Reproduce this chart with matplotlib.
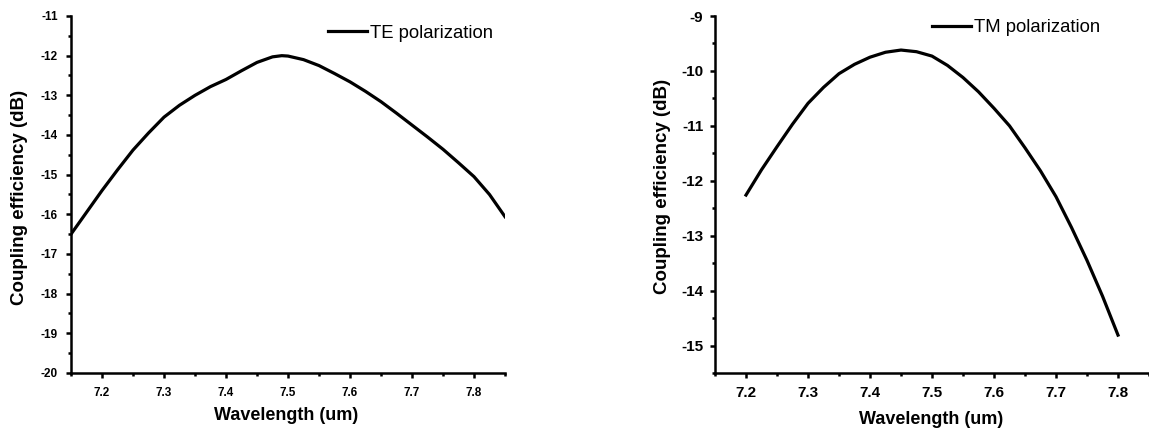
import matplotlib
matplotlib.use('Agg')
import matplotlib.pyplot as plt
from matplotlib.ticker import MultipleLocator

plt.rcParams['font.family'] = ['Liberation Sans', 'DejaVu Sans']
plt.rcParams['axes.unicode_minus'] = False

# TE polarization (left panel)
te_wl = [7.15, 7.175, 7.20, 7.225, 7.25, 7.275, 7.30, 7.325, 7.35, 7.375,
         7.40, 7.425, 7.45, 7.475, 7.49, 7.50, 7.525, 7.55, 7.575, 7.60,
         7.625, 7.65, 7.675, 7.70, 7.725, 7.75, 7.775, 7.80, 7.825, 7.85]
te_ce = [-16.50, -15.95, -15.40, -14.88, -14.38, -13.95, -13.55, -13.25, -13.00, -12.78,
         -12.60, -12.38, -12.17, -12.03, -12.00, -12.01, -12.10, -12.25, -12.45, -12.66,
         -12.90, -13.16, -13.45, -13.75, -14.05, -14.36, -14.70, -15.05, -15.50, -16.06]

# TM polarization (right panel)
tm_wl = [7.20, 7.225, 7.25, 7.275, 7.30, 7.325, 7.35, 7.375, 7.40, 7.425, 7.45, 7.475, 7.50,
         7.525, 7.55, 7.575, 7.60, 7.625, 7.65, 7.675, 7.70, 7.725, 7.75, 7.775, 7.80]
tm_ce = [-12.26, -11.80, -11.38, -10.97, -10.59, -10.30, -10.05, -9.88, -9.75, -9.66, -9.62, -9.65, -9.73,
         -9.90, -10.12, -10.38, -10.68, -11.00, -11.40, -11.82, -12.29, -12.85, -13.45, -14.10, -14.81]

W, H = 1149, 434
fig = plt.figure(figsize=(W / 100, H / 100), dpi=100)
ax1 = fig.add_axes([71 / W, 1 - 373 / H, 434 / W, 357 / H])
ax2 = fig.add_axes([715 / W, 1 - 373 / H, 434 / W, 357 / H])


def style(ax, tick_size, xpad, ypad):
    for s in ['top', 'right']:
        ax.spines[s].set_visible(False)
    for s in ['left', 'bottom']:
        ax.spines[s].set_linewidth(1.8)
    ax.tick_params(which='major', direction='out', length=3.5, width=1.8, labelsize=tick_size)
    ax.tick_params(axis='x', which='major', pad=xpad)
    ax.tick_params(axis='y', which='major', pad=ypad)
    ax.tick_params(which='minor', direction='out', length=2.5, width=1.8)
    for lab in ax.get_xticklabels() + ax.get_yticklabels():
        lab.set_fontweight('bold')
    ax.xaxis.set_major_locator(MultipleLocator(0.1))
    ax.xaxis.set_minor_locator(MultipleLocator(0.05))
    ax.yaxis.set_major_locator(MultipleLocator(1))
    ax.yaxis.set_minor_locator(MultipleLocator(0.5))
    ax.set_xlim(7.15, 7.85)
    ax.set_xlabel('Wavelength (um)', fontsize=13, fontweight='bold')
    ax.set_ylabel('Coupling efficiency (dB)', fontsize=13.5, fontweight='bold')


def fx(ax_left, px):
    return (px - ax_left) / 434


def fy(py):
    return (373 - py) / 357


ax1.plot(te_wl, te_ce, color='black', lw=2.3, label='TE polarization')
ax1.set_ylim(-20, -11)
style(ax1, 8.5, 6.5, 6)
ax1.xaxis.set_label_coords(fx(71, 286), fy(407))
ax1.yaxis.set_label_coords(fx(71, 28), fy(197))
ax1.legend(loc='center left', frameon=False, fontsize=13.3, handlelength=2.1,
           handletextpad=0.15, borderpad=0, borderaxespad=0,
           bbox_to_anchor=(328 / W, 1 - 33 / H), bbox_transform=fig.transFigure)

ax2.plot(tm_wl, tm_ce, color='black', lw=2.3, label='TM polarization')
ax2.set_ylim(-15.5, -9)
style(ax2, 11, 6, 5)
ax2.xaxis.set_label_coords(fx(715, 931), fy(411))
ax2.yaxis.set_label_coords(fx(715, 671), fy(186))
ax2.legend(loc='center left', frameon=False, fontsize=13.3, handlelength=2.1,
           handletextpad=0.15, borderpad=0, borderaxespad=0,
           bbox_to_anchor=(932 / W, 1 - 28 / H), bbox_transform=fig.transFigure)

fig.savefig('out.png', dpi=100)
